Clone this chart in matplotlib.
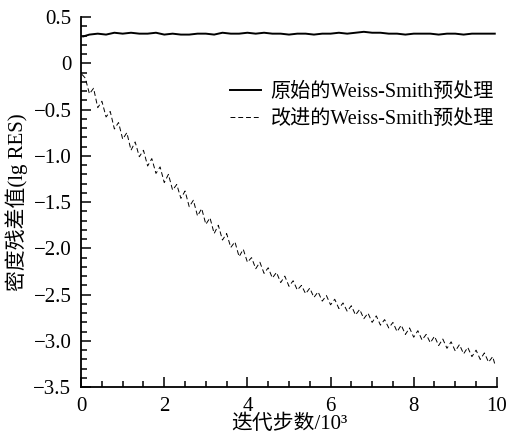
import numpy as np
import matplotlib
matplotlib.use("Agg")
import matplotlib.pyplot as plt
from matplotlib.ticker import MultipleLocator, FuncFormatter

plt.rcParams['font.family'] = ['Liberation Serif', 'Noto Sans CJK SC']
plt.rcParams['axes.unicode_minus'] = True

# --- data (x in 10^3 steps) ---
orig_x = [0.05, 0.2, 0.4, 0.6, 0.8, 1.0, 1.2, 1.4, 1.6, 1.8, 2.0, 2.2, 2.4, 2.6, 2.8,
          3.0, 3.2, 3.4, 3.6, 3.8, 4.0, 4.2, 4.4, 4.6, 4.8, 5.0, 5.2, 5.4, 5.6, 5.8,
          6.0, 6.2, 6.4, 6.6, 6.8, 7.0, 7.2, 7.4, 7.6, 7.8, 8.0, 8.2, 8.4, 8.6, 8.8,
          9.0, 9.2, 9.4, 9.6, 9.8, 9.95]
orig_res = [0.29, 0.31, 0.32, 0.31, 0.33, 0.32, 0.33, 0.32, 0.32, 0.33, 0.31, 0.32, 0.31,
            0.31, 0.32, 0.32, 0.31, 0.33, 0.32, 0.32, 0.33, 0.32, 0.33, 0.32, 0.32, 0.31,
            0.32, 0.32, 0.31, 0.32, 0.32, 0.33, 0.32, 0.33, 0.34, 0.33, 0.33, 0.32, 0.32,
            0.31, 0.32, 0.32, 0.32, 0.31, 0.32, 0.32, 0.31, 0.32, 0.32, 0.32, 0.32]

new_x = [0.02, 0.1, 0.2, 0.3, 0.4, 0.5, 0.6, 0.7, 0.8, 0.9, 1.0, 1.1, 1.2, 1.3, 1.4, 1.5,
         1.6, 1.7, 1.8, 1.9, 2.0, 2.1, 2.2, 2.3, 2.4, 2.5, 2.6, 2.7, 2.8, 2.9, 3.0,
         3.1, 3.2, 3.3, 3.4, 3.5, 3.6, 3.7, 3.8, 3.9, 4.0, 4.1, 4.2, 4.3, 4.4, 4.5,
         4.6, 4.7, 4.8, 4.9, 5.0, 5.1, 5.2, 5.3, 5.4, 5.5, 5.6, 5.7, 5.8, 5.9, 6.0,
         6.1, 6.2, 6.3, 6.4, 6.5, 6.6, 6.7, 6.8, 6.9, 7.0, 7.1, 7.2, 7.3, 7.4, 7.5,
         7.6, 7.7, 7.8, 7.9, 8.0, 8.1, 8.2, 8.3, 8.4, 8.5, 8.6, 8.7, 8.8, 8.9, 9.0,
         9.1, 9.2, 9.3, 9.4, 9.5, 9.6, 9.7, 9.8, 9.9, 9.95]
new_res = [-0.12, -0.16, -0.33, -0.27, -0.48, -0.41, -0.58, -0.52, -0.71, -0.64, -0.82,
           -0.75, -0.94, -0.85, -1.01, -0.94, -1.11, -1.03, -1.19, -1.12, -1.29, -1.20,
           -1.37, -1.31, -1.46, -1.38, -1.55, -1.48, -1.65, -1.57, -1.74, -1.67, -1.84,
           -1.75, -1.91, -1.84, -1.99, -1.93, -2.09, -2.01, -2.15, -2.10, -2.22, -2.15,
           -2.27, -2.21, -2.32, -2.26, -2.37, -2.30, -2.41, -2.35, -2.45, -2.40, -2.49,
           -2.43, -2.53, -2.47, -2.57, -2.51, -2.61, -2.55, -2.65, -2.59, -2.68, -2.62,
           -2.72, -2.66, -2.76, -2.70, -2.80, -2.73, -2.83, -2.77, -2.86, -2.80, -2.90,
           -2.83, -2.93, -2.86, -2.96, -2.89, -2.99, -2.93, -3.02, -2.95, -3.05, -2.98,
           -3.08, -3.01, -3.11, -3.04, -3.14, -3.07, -3.17, -3.10, -3.20, -3.13, -3.23,
           -3.17, -3.25]

labels = ['原始的Weiss-Smith预处理', '改进的Weiss-Smith预处理']

fig = plt.figure(figsize=(5.07, 4.36), dpi=100)
ax = fig.add_axes([0.160, 0.112, 0.820, 0.849])

ax.plot(orig_x, orig_res, color='black', lw=1.4, label=labels[0])
ax.plot(new_x, new_res, color='black', lw=0.7, dashes=(5, 3), label=labels[1])

ax.set_xlim(0, 10)
ax.set_ylim(-3.5, 0.5)
ax.xaxis.set_major_locator(MultipleLocator(2))
ax.xaxis.set_minor_locator(MultipleLocator(0.5))
ax.yaxis.set_major_locator(MultipleLocator(0.5))
ax.yaxis.set_minor_locator(MultipleLocator(0.1))
ax.yaxis.set_major_formatter(FuncFormatter(lambda v, p: '0' if abs(v) < 1e-9 else f'{v:.1f}'.replace('-', '\u2212')))

for s in ['top', 'right']:
    ax.spines[s].set_visible(False)
for s in ['left', 'bottom']:
    ax.spines[s].set_linewidth(1.3)
ax.tick_params(which='both', direction='in', labelsize=15, width=1.1, pad=7)
ax.tick_params(which='major', length=7)
ax.tick_params(which='minor', length=4)

ax.set_xlabel('迭代步数/10³', fontsize=15, labelpad=-1)
ax.set_ylabel('密度残差值(lg RES)', fontsize=15, labelpad=4)

ax.legend(loc='upper left', bbox_to_anchor=(0.335, 0.85), frameon=False, fontsize=14.5,
          handlelength=1.5, handletextpad=0.5, labelspacing=0.4, borderpad=0)

fig.savefig('out.png', dpi=100)
